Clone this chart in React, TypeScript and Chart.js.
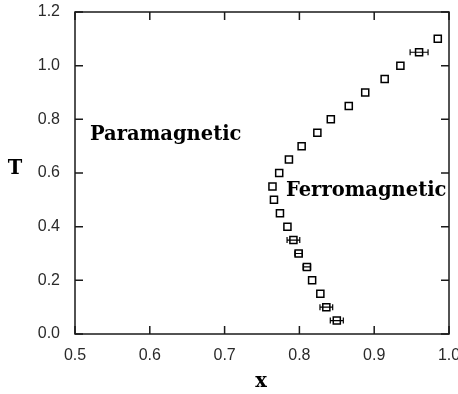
import React, { useEffect, useRef } from "react";
import { Chart, registerables } from "chart.js";

Chart.register(...registerables);

// Temperature values (y)
const tValues = [0.05, 0.1, 0.15, 0.2, 0.25, 0.3, 0.35, 0.4, 0.45, 0.5, 0.55, 0.6, 0.65, 0.7, 0.75, 0.8, 0.85, 0.9, 0.95, 1.0, 1.05, 1.1];
// Concentration values (x)
const xValues = [0.85, 0.836, 0.828, 0.817, 0.81, 0.799, 0.792, 0.784, 0.774, 0.766, 0.764, 0.773, 0.786, 0.803, 0.824, 0.842, 0.866, 0.888, 0.914, 0.935, 0.96, 0.985];
// Horizontal error bar half-widths
const xErrors = [0.0087, 0.0085, 0, 0, 0.005, 0.005, 0.0085, 0, 0, 0, 0, 0, 0, 0, 0, 0, 0, 0, 0, 0, 0.012, 0];

const xTicks = [0.5, 0.6, 0.7, 0.8, 0.9, 1.0];
const yTicks = [0.0, 0.2, 0.4, 0.6, 0.8, 1.0, 1.2];

const regionLabels = ["Paramagnetic", "Ferromagnetic"];
const regionLabelX = [0.52, 0.782];
const regionLabelY = [0.723, 0.514];

const xTitle = "x";
const yTitle = "T";

const SERIF_BOLD = "bold 19.5px 'DejaVu Serif', 'Liberation Serif', serif";
const INK = "#1a1a1a";

const framePlugin = {
  id: "framePlugin",
  afterDatasetsDraw(chart: any) {
    const { ctx, chartArea, scales } = chart;
    const xs = scales.x;
    const ys = scales.y;
    ctx.save();
    // error bars
    ctx.strokeStyle = "#000";
    ctx.lineWidth = 1.2;
    for (let i = 0; i < tValues.length; i++) {
      const e = xErrors[i];
      if (!e) continue;
      const y = ys.getPixelForValue(tValues[i]);
      const x1 = xs.getPixelForValue(xValues[i] - e);
      const x2 = xs.getPixelForValue(xValues[i] + e);
      ctx.beginPath();
      ctx.moveTo(x1, y);
      ctx.lineTo(x2, y);
      ctx.moveTo(x1, y - 3);
      ctx.lineTo(x1, y + 3);
      ctx.moveTo(x2, y - 3);
      ctx.lineTo(x2, y + 3);
      ctx.stroke();
    }
    // frame
    ctx.lineWidth = 1.5;
    ctx.strokeStyle = INK;
    ctx.strokeRect(chartArea.left, chartArea.top, chartArea.right - chartArea.left, chartArea.bottom - chartArea.top);
    // inward ticks
    const tl = 8;
    ctx.beginPath();
    xTicks.forEach((v) => {
      const x = xs.getPixelForValue(v);
      ctx.moveTo(x, chartArea.bottom);
      ctx.lineTo(x, chartArea.bottom - tl);
      ctx.moveTo(x, chartArea.top);
      ctx.lineTo(x, chartArea.top + tl);
    });
    yTicks.forEach((v) => {
      const y = ys.getPixelForValue(v);
      ctx.moveTo(chartArea.left, y);
      ctx.lineTo(chartArea.left + tl, y);
      ctx.moveTo(chartArea.right, y);
      ctx.lineTo(chartArea.right - tl, y);
    });
    ctx.stroke();
    // region labels
    ctx.fillStyle = "#000";
    ctx.font = SERIF_BOLD;
    ctx.textAlign = "left";
    ctx.textBaseline = "alphabetic";
    regionLabels.forEach((s, i) => {
      ctx.fillText(s, xs.getPixelForValue(regionLabelX[i]), ys.getPixelForValue(regionLabelY[i]));
    });
    // axis titles
    ctx.textAlign = "center";
    ctx.fillText(xTitle, 261, 387);
    ctx.fillText(yTitle, 15, 174);
    ctx.restore();
  },
};

export default function App() {
  const ref = useRef<HTMLCanvasElement>(null);
  useEffect(() => {
    document.body.style.margin = "0";
    const canvas = ref.current!;
    const tickFont = { family: "'Liberation Sans', Arial, sans-serif", size: 16 };
    const chart = new Chart(canvas, {
      type: "scatter",
      data: {
        datasets: [
          {
            data: tValues.map((t, i) => ({ x: xValues[i], y: t })),
            pointStyle: "rect",
            pointRadius: 5,
            pointBorderWidth: 1.5,
            pointBorderColor: "#000",
            pointBackgroundColor: "#fff",
            showLine: false,
          },
        ],
      },
      options: {
        responsive: false,
        animation: false,
        events: [],
        layout: { padding: 0 },
        plugins: { legend: { display: false }, tooltip: { enabled: false } },
        scales: {
          x: {
            type: "linear",
            min: 0.5,
            max: 1.0,
            afterBuildTicks: (s: any) => {
              s.ticks = xTicks.map((v) => ({ value: v }));
            },
            afterFit: (s: any) => {
              s.height = 60;
              s.paddingRight = 9;
              s.paddingLeft = 0;
            },
            grid: { display: false, drawTicks: false, tickLength: 0 },
            border: { display: false },
            ticks: {
              padding: 12,
              color: "#2a2a2a",
              font: tickFont,
              callback: (v: any) => Number(v).toFixed(1),
            },
          },
          y: {
            type: "linear",
            min: 0,
            max: 1.2,
            afterBuildTicks: (s: any) => {
              s.ticks = yTicks.map((v) => ({ value: v }));
            },
            afterFit: (s: any) => {
              s.width = 75;
              s.paddingTop = 12;
              s.paddingBottom = 0;
            },
            grid: { display: false, drawTicks: false, tickLength: 0 },
            border: { display: false },
            ticks: {
              padding: 15,
              color: "#2a2a2a",
              font: tickFont,
              callback: (v: any) => Number(v).toFixed(1),
            },
          },
        },
      },
      plugins: [framePlugin],
    });
    return () => chart.destroy();
  }, []);
  return <canvas ref={ref} width={458} height={394} style={{ display: "block" }} />;
}
